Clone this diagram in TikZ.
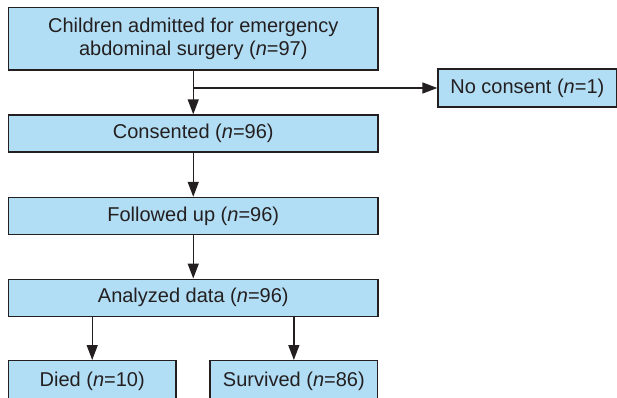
\documentclass[tikz,border=0pt]{standalone}
\usepackage{fontspec}
\setmainfont{Liberation Sans}
\usetikzlibrary{arrows.meta}
\definecolor{boxfill}{RGB}{178,222,245}
\definecolor{ink}{RGB}{35,31,32}
\tikzset{
  box/.style={draw=ink, line width=1.4pt, fill=boxfill, text=ink, inner sep=0pt,
    font=\fontsize{20}{23}\selectfont, align=center},
  arr/.style={draw=ink, line width=1.4pt, -{Triangle[length=15pt,width=11pt]}}
}
\begin{document}
\begin{tikzpicture}[x=1pt,y=-1pt]
\useasboundingbox (0,0) rectangle (617,397);
\clip (0,0) rectangle (617,397);
\node[box, minimum width=369.5pt, minimum height=62.5pt] (top) at (193.25,38.75)
  {Children admitted for emergency\\abdominal surgery (\textit{n}=97)};
\node[box, minimum width=178.5pt, minimum height=38pt] (nocons) at (527.3,88)
  {No consent (\textit{n}=1)};
\node[box, minimum width=369.5pt, minimum height=37pt] (cons) at (193.25,133.5)
  {Consented (\textit{n}=96)};
\node[box, minimum width=369.5pt, minimum height=37pt] (foll) at (193.25,216)
  {Followed up (\textit{n}=96)};
\node[box, minimum width=369.5pt, minimum height=37pt] (anal) at (193.25,297.7)
  {Analyzed data (\textit{n}=96)};
\node[box, minimum width=167.7pt, minimum height=41pt] (died) at (92.2,381.2)
  {Died (\textit{n}=10)};
\node[box, minimum width=167.7pt, minimum height=41pt] (surv) at (293.85,381.2)
  {Survived (\textit{n}=86)};
\coordinate (br) at (top.south |- nocons.west);
\draw[arr] (top) -- (cons);
\draw[arr] (br) -- (nocons);
\draw[arr] (cons) -- (foll);
\draw[arr] (foll) -- (anal);
\draw[arr] (anal.south -| died) -- (died);
\draw[arr] (anal.south -| surv) -- (surv);
\end{tikzpicture}
\end{document}
